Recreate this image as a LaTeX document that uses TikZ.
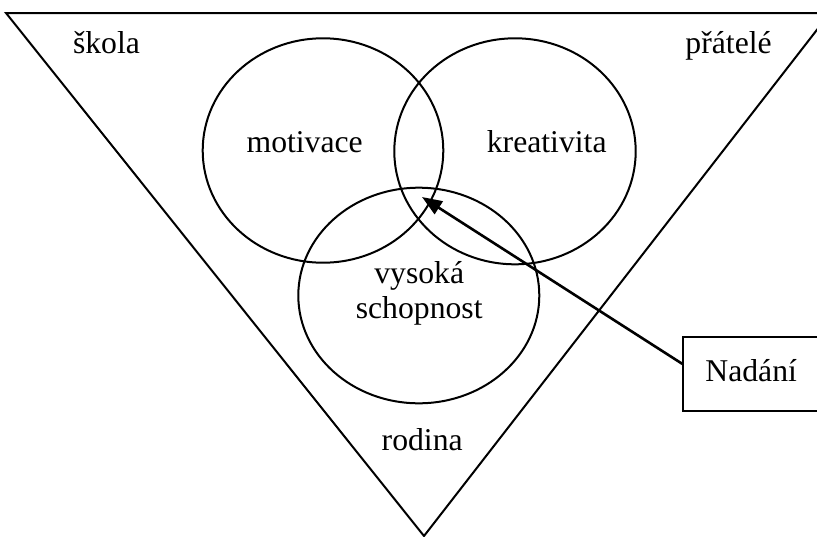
\documentclass[tikz,border=0pt]{standalone}
\usepackage{fontspec}
\setmainfont{Liberation Serif}
\usetikzlibrary{arrows.meta,shapes.geometric}
\begin{document}
\begin{tikzpicture}[x=1pt,y=-1pt,line width=2pt,
  lbl/.style={font=\fontsize{31.7}{35}\selectfont,inner sep=0pt,anchor=base},
  ring/.style={draw,ellipse,inner sep=0pt,outer sep=0pt},
  pointer/.style={line width=2.6pt,-{Triangle[length=20pt,width=15pt]}}]
  \useasboundingbox (0,0) rectangle (817,536);
  \clip (0,0) rectangle (817,536);

  % outer inverted triangle
  \coordinate (tl) at (6,13);
  \coordinate (tr) at (830,13);
  \coordinate (apex) at (424,536);
  \draw[line join=miter] (tl) -- (tr) -- (apex) -- cycle;

  % three overlapping sets
  \node[ring,minimum width=240.6pt,minimum height=224.4pt] (motring) at (323,150.5) {};
  \node[ring,minimum width=241.4pt,minimum height=226pt] (krering) at (515,151.3) {};
  \node[ring,minimum width=241pt,minimum height=215.6pt] (vysring) at (418.8,295.5) {};

  % labels
  \node[lbl] (skola) at (106.5,53) {škola};
  \node[lbl] (pratele) at (728.6,53) {přátelé};
  \node[lbl] (motivace) at (304.7,152.7) {motivace};
  \node[lbl] (kreativita) at (546.7,152.7) {kreativita};
  \node[lbl] (vysoka) at (419.2,283.3) {vysoká};
  \node[lbl] (schopnost) at (419.2,318.3) {schopnost};
  \node[lbl] (rodina) at (422.2,450) {rodina};

  % label box with arrow into the common intersection
  \node[draw,font=\fontsize{31.7}{35}\selectfont,
        minimum width=135.7pt,minimum height=73.7pt,inner sep=0pt]
        (nadani) at (751.2,373.9) {\raisebox{6pt}{Nadání}};
  \coordinate (tip) at (422,197);
  \draw[pointer] ([yshift=10pt]nadani.west) -- (tip);
\end{tikzpicture}
\end{document}
